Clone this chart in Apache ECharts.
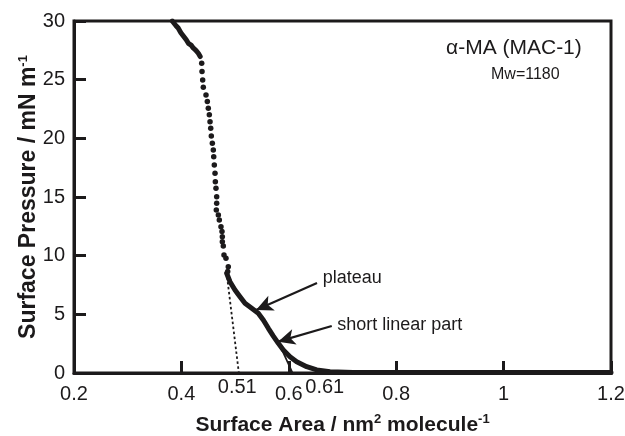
<!DOCTYPE html>
<html>
<head>
<meta charset="utf-8">
<script src="https://cdn.jsdelivr.net/npm/echarts@6/dist/echarts.min.js"></script>
<style>
html,body{margin:0;padding:0;background:#fff;}
#chart{width:625px;height:436px;}
</style>
</head>
<body>
<div id="chart"></div>
<script>
// ---- data ----
const xTickLabels = ['0.2', '0.4', '0.6', '0.8', '1', '1.2'];
const yTickLabels = ['0', '5', '10', '15', '20', '25', '30'];

// dense upper part (collapsed region)
const upperArea = [0.383, 0.385, 0.390, 0.394, 0.399, 0.404, 0.409, 0.413, 0.418, 0.422, 0.427, 0.4315, 0.435];
const upperPressure = [30.0, 29.9, 29.6, 29.4, 29.0, 28.7, 28.4, 28.1, 27.95, 27.7, 27.5, 27.25, 26.97];

// sparse dots on the steep part
const steepArea = [0.4378, 0.4384, 0.4396, 0.4408, 0.4458, 0.4483, 0.4501, 0.4520, 0.4533, 0.4546, 0.4557, 0.4576, 0.4594, 0.4602, 0.4613, 0.4626, 0.4632, 0.4644, 0.4657, 0.4657, 0.4650, 0.4688, 0.4706, 0.4737, 0.4756, 0.4762, 0.4762, 0.4780, 0.4793, 0.4830, 0.4873, 0.4862];
const steepPressure = [26.40, 25.69, 24.98, 24.36, 23.70, 23.13, 22.57, 22.00, 21.42, 20.86, 20.20, 19.58, 19.01, 18.44, 17.73, 17.02, 16.31, 15.74, 15.03, 14.47, 13.90, 13.47, 13.04, 12.47, 12.05, 11.62, 11.19, 10.83, 10.06, 9.78, 9.06, 8.64];

// dense lower part (expanded region and tail)
const lowerArea = [0.4843, 0.4905, 0.4998, 0.5091, 0.5184, 0.5309, 0.5432, 0.5525, 0.5619, 0.5712, 0.5805, 0.5898, 0.6022, 0.6147, 0.6333, 0.6520, 0.6767, 0.72, 0.80, 0.90, 1.00, 1.10, 1.20];
const lowerPressure = [8.50, 7.78, 7.08, 6.50, 5.94, 5.51, 5.09, 4.52, 3.81, 3.15, 2.53, 1.96, 1.39, 0.96, 0.54, 0.26, 0.11, 0.05, 0.04, 0.05, 0.04, 0.05, 0.05];

// extrapolation lines
const extrapArea = [0.484, 0.507];
const extrapPressure = [8.6, 0];
const linearArea = [0.588, 0.607];
const linearPressure = [1.9, 0];

// annotation texts
const limitLabels = ['0.51', '0.61'];
const noteLabels = ['plateau', 'short linear part'];
const sampleName = '\u03b1-MA (MAC-1)';
const sampleMw = 'Mw=1180';

// ---- build ----
const ink = '#1c1a1b';
const fam = '"Liberation Sans", Arial, sans-serif';
const zip = (a, b) => a.map((v, i) => [v, b[i]]);

const chart = echarts.init(document.getElementById('chart'), null, {renderer: 'canvas'});

const titleRich = (size) => ({
  a: {fontSize: size, fontWeight: 'bold', color: ink, fontFamily: fam, verticalAlign: 'bottom'},
  b: {fontSize: 13, fontWeight: 'bold', color: ink, fontFamily: fam, verticalAlign: 'bottom', padding: [0, 0, 10, 0]}
});

const option = {
  animation: false,
  backgroundColor: '#fff',
  grid: {
    left: 74, top: 21, right: 14, bottom: 63, containLabel: false, outerBoundsMode: 'none',
    show: true, borderColor: ink, borderWidth: 3, backgroundColor: 'transparent'
  },
  xAxis: {
    type: 'value', min: 0.2, max: 1.2, interval: 0.2,
    axisLine: {show: true, lineStyle: {color: ink, width: 3}},
    axisTick: {show: true, inside: true, length: 12, lineStyle: {color: ink, width: 3}},
    splitLine: {show: false},
    axisLabel: {
      color: ink, fontSize: 20, fontFamily: fam, margin: 11,
      formatter: (v, i) => xTickLabels[i]
    },
    name: '{a|Surface Area / nm}{b|2}{a| molecule}{b|-1}',
    nameLocation: 'middle', nameGap: 40,
    nameTextStyle: {rich: titleRich(21)}
  },
  yAxis: {
    type: 'value', min: 0, max: 30, interval: 5,
    axisLine: {show: true, lineStyle: {color: ink, width: 3}},
    axisTick: {show: true, inside: true, length: 12, lineStyle: {color: ink, width: 3}},
    splitLine: {show: false},
    axisLabel: {
      color: ink, fontSize: 20, fontFamily: fam, margin: 9,
      formatter: (v, i) => yTickLabels[i]
    },
    name: '{a|Surface Pressure / mN m}{b|-1}',
    nameLocation: 'middle', nameGap: 34, nameRotate: 90, nameMoveOverlap: false,
    nameTextStyle: {rich: titleRich(23)}
  },
  series: [
    {
      name: 'upper', type: 'line', data: zip(upperArea, upperPressure),
      showSymbol: false, lineStyle: {color: ink, width: 5, cap: 'round', join: 'round'}, z: 5
    },
    {
      name: 'steep', type: 'scatter', data: zip(steepArea, steepPressure),
      symbol: 'circle', symbolSize: 5.5, itemStyle: {color: ink, opacity: 1}, z: 5
    },
    {
      name: 'lower', type: 'line', data: zip(lowerArea, lowerPressure),
      showSymbol: false, lineStyle: {color: ink, width: 5, cap: 'round', join: 'round'}, z: 5,
      markLine: {
        silent: true, animation: false,
        lineStyle: {color: ink, width: 2.2, type: 'solid', opacity: 1},
        label: {show: false},
        symbol: ['none', 'arrow'], symbolSize: [12, 17],
        data: [
          [{coord: [0.6525, 7.67]}, {coord: [0.539, 5.37]}],
          [{coord: [0.680, 4.0]}, {coord: [0.580, 2.67]}]
        ]
      }
    },
    {
      name: 'extrap', type: 'line', data: zip(extrapArea, extrapPressure),
      showSymbol: false, lineStyle: {color: ink, width: 1.8, type: [2.5, 2.5]}, z: 4
    },
    {
      name: 'linear', type: 'line', data: zip(linearArea, linearPressure),
      showSymbol: false, lineStyle: {color: ink, width: 1.8}, z: 4
    },
    {
      name: 'limits', type: 'scatter', clip: false, symbolSize: 0, silent: true,
      itemStyle: {opacity: 1},
      data: [[extrapArea[1] - 0.003, -1.2], [0.667, -1.2]],
      label: {
        show: true, position: 'inside', color: ink, opacity: 1, fontSize: 20, fontFamily: fam, textBorderWidth: 0,
        formatter: p => limitLabels[p.dataIndex]
      }
    },
    {
      name: 'notes', type: 'scatter', clip: false, symbolSize: 0, silent: true,
      itemStyle: {opacity: 1},
      data: [[0.663, 8.1], [0.690, 4.1]],
      label: {
        show: true, position: 'right', distance: 0, color: ink, opacity: 1, fontSize: 18, fontFamily: fam, textBorderWidth: 0,
        formatter: p => noteLabels[p.dataIndex]
      }
    }
  ],
  graphic: [
    {type: 'text', left: 446, top: 38, style: {text: sampleName, fill: ink, font: '21px ' + fam}},
    {type: 'text', left: 491, top: 67, style: {text: sampleMw, fill: ink, font: '16px ' + fam}}
  ]
};
chart.setOption(option);
</script>
</body>
</html>
